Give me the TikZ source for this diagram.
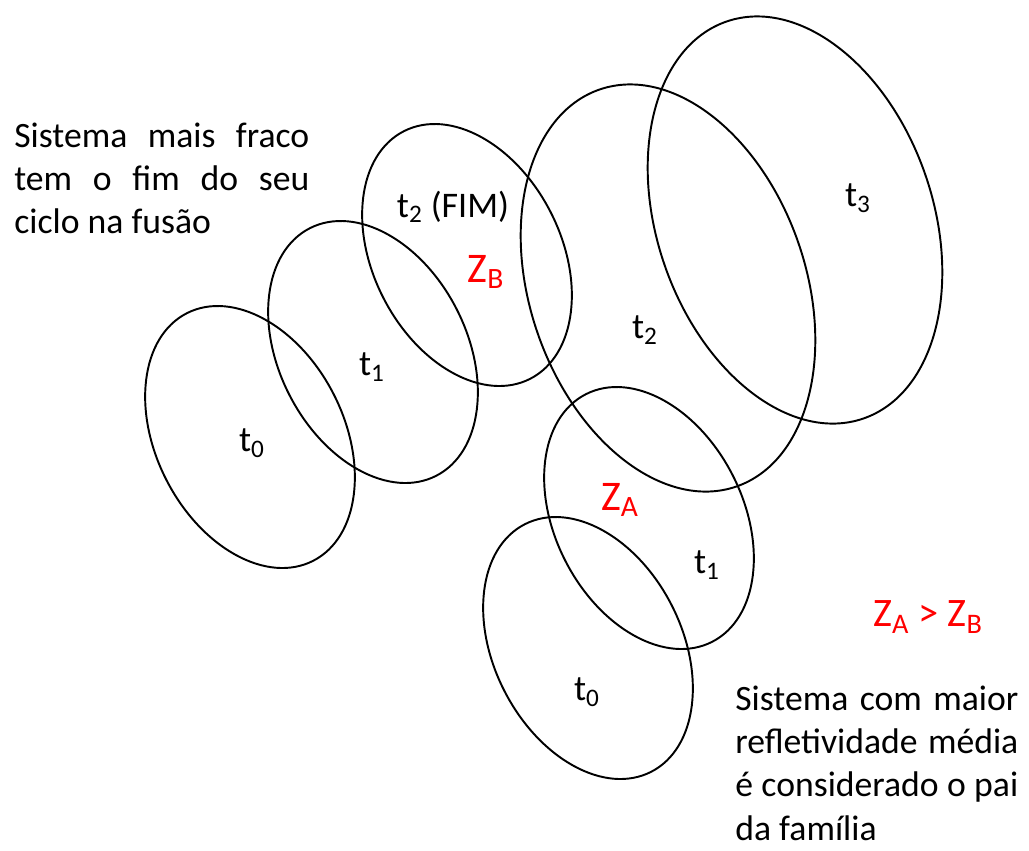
\documentclass[tikz,border=0pt]{standalone}
\usepackage{fontspec}
\setmainfont{Carlito}
\usetikzlibrary{shapes.geometric}
\begin{document}
\begin{tikzpicture}[x=0.02cm,y=-0.02cm,
    cellline/.style={draw,ellipse,line width=1.1pt,inner sep=0pt},
    cell/.style={cellline,minimum width=3.76cm,minimum height=5.56cm,rotate=27},
    bigcell/.style={cellline,minimum width=5.52cm,minimum height=8.4cm,rotate=19},
    lab/.style={inner sep=0pt,font=\fontsize{20.5}{24}\selectfont},
    zlab/.style={inner sep=0pt,text=red,font=\fontsize{24}{28}\selectfont},
    note/.style={inner sep=0pt,anchor=north west,align=left,font=\fontsize{20.3}{24.5}\selectfont}]
  \useasboundingbox (0,0) rectangle (1029,850);
  % system B
  \node[cell] (B0) at (250,437) {};
  \node[cell] (B1) at (373,352) {};
  \node[cell] (B2) at (467,255) {};
  % system A
  \node[cell] (A0) at (588,648) {};
  \node[cell] (A1) at (649,518) {};
  \node[bigcell] (A2) at (668,288) {};
  \node[bigcell] (A3) at (795,220) {};
  % labels
  \node[lab] (lB0) at (252,443) {t\textsubscript{0}};
  \node[lab] (lB1) at (372,367) {t\textsubscript{1}};
  \node[lab] (lB2) at (453,207) {t\textsubscript{2} (FIM)};
  \node[zlab] (zB) at (486,272) {Z\textsubscript{B}};
  \node[lab] (lA0) at (587,692) {t\textsubscript{0}};
  \node[lab] (lA1) at (707,565) {t\textsubscript{1}};
  \node[lab] (lA2) at (645,330) {t\textsubscript{2}};
  \node[lab] (lA3) at (858,198) {t\textsubscript{3}};
  \node[zlab] (zA) at (620,500) {Z\textsubscript{A}};
  \node[zlab,font=\fontsize{23}{27}\selectfont] (cmp) at (928,617) {Z\textsubscript{A} > Z\textsubscript{B}};
  % notes
  \node[note] (weak) at (14,123) {\makebox[5.9cm][s]{Sistema mais fraco}\\
    \makebox[5.9cm][s]{tem o fim do seu}\\ciclo na fusão};
  \node[note] (strong) at (735,686) {\makebox[5.66cm][s]{Sistema com maior}\\
    \makebox[5.66cm][s]{refletividade média}\\
    \makebox[5.66cm][s]{é considerado o pai}\\da família};
\end{tikzpicture}
\end{document}
